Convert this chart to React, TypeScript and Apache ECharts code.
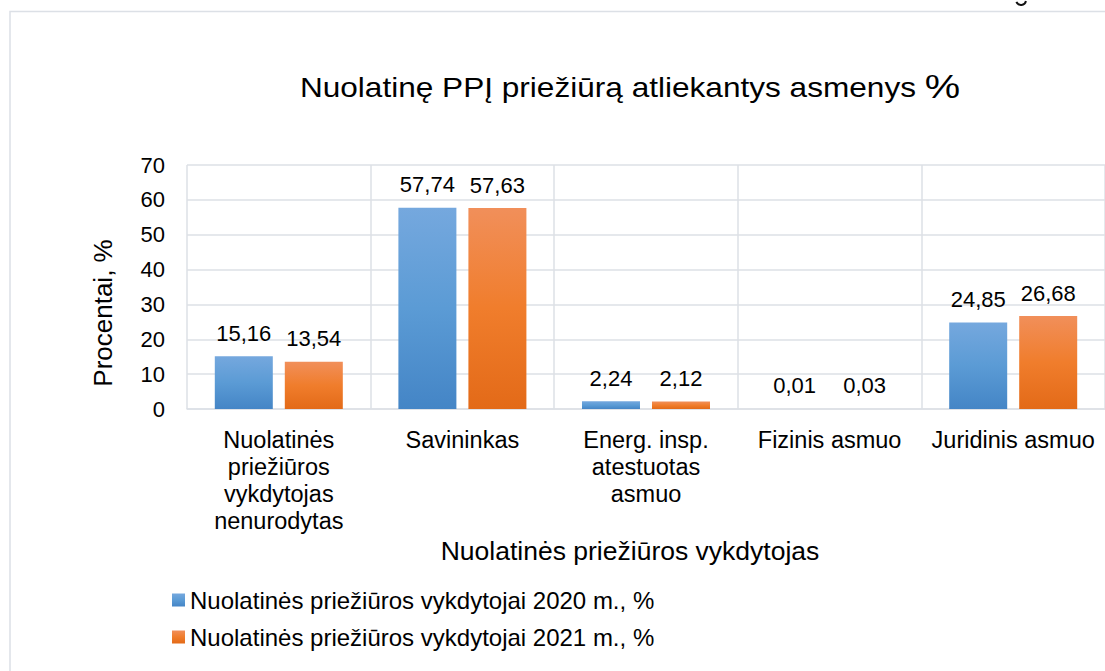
import React, { useEffect, useRef } from "react";
import * as echarts from "echarts";

const categories = [
  "Nuolatinės\npriežiūros\nvykdytojas\nnenurodytas",
  "Savininkas",
  "Energ. insp.\natestuotas\nasmuo",
  "Fizinis asmuo",
  "Juridinis asmuo",
];
const values2020 = [15.16, 57.74, 2.24, 0.01, 24.85];
const values2021 = [13.54, 57.63, 2.12, 0.03, 26.68];
const seriesNames = [
  "Nuolatinės priežiūros vykdytojai 2020 m., %",
  "Nuolatinės priežiūros vykdytojai 2021 m., %",
];
const yMin = 0;
const yMax = 70;
const yInterval = 10;
const titleText = "Nuolatinę PPĮ priežiūrą atliekantys asmenys ";
const yName = "Procentai, %";
const xName = "Nuolatinės priežiūros vykdytojas";

const FONT = "'Liberation Sans', Arial, sans-serif";
const GRID = "#DCE0E6";

function grad(top: string, mid: string, bottom: string) {
  return new echarts.graphic.LinearGradient(0, 0, 0, 1, [
    { offset: 0, color: top },
    { offset: 0.5, color: mid },
    { offset: 1, color: bottom },
  ]);
}

export default function App() {
  const ref = useRef<HTMLDivElement>(null);
  useEffect(() => {
    if (!ref.current) return;
    const chart = echarts.init(ref.current, undefined, { renderer: "svg" });
    const fmt = (p: any) => Number(p.value).toFixed(2).replace(".", ",");
    const label = {
      show: true,
      position: "top",
      distance: 12,
      fontSize: 22,
      fontFamily: FONT,
      color: "#000",
      formatter: fmt,
    };
    chart.setOption({
      animation: false,
      backgroundColor: "#fff",
      textStyle: { fontFamily: FONT },
      grid: { left: 187, right: 0, top: 165, bottom: 262, containLabel: false },
      legend: {
        orient: "vertical",
        left: 172,
        top: 588,
        padding: 0,
        icon: "rect",
        itemWidth: 13,
        itemHeight: 13,
        itemGap: 13,
        textStyle: { fontSize: 24, fontFamily: FONT, color: "#000", lineHeight: 22 },
        data: seriesNames,
      },
      xAxis: {
        type: "category",
        data: categories,
        axisLine: { show: true, lineStyle: { color: GRID, width: 1.5 } },
        axisTick: { show: false },
        splitLine: { show: true, lineStyle: { color: GRID, width: 1.5 } },
        axisLabel: {
          interval: 0,
          fontSize: 23.5,
          lineHeight: 27,
          margin: 17,
          color: "#000",
          fontFamily: FONT,
        },
      },
      yAxis: {
        type: "value",
        min: yMin,
        max: yMax,
        interval: yInterval,
        axisLine: { show: false },
        axisTick: { show: false },
        splitLine: { show: true, lineStyle: { color: GRID, width: 1.5 } },
        axisLabel: { fontSize: 22, margin: 22, color: "#000", fontFamily: FONT },
      },
      series: [
        {
          name: seriesNames[0],
          type: "bar",
          data: values2020,
          barWidth: 58,
          barGap: "20.7%",
          itemStyle: { color: grad("#75A8DE", "#5B9BD5", "#4485C6") },
          label,
        },
        {
          name: seriesNames[1],
          type: "bar",
          data: values2021,
          barWidth: 58,
          barGap: "20.7%",
          itemStyle: { color: grad("#F18F5A", "#F07D2C", "#E36A18") },
          label,
        },
      ],
      graphic: [
        {
          type: "rect",
          silent: true,
          shape: { x: 10, y: 11.5, width: 1300, height: 800 },
          style: { fill: "none", stroke: GRID, lineWidth: 1.5 },
        },
        {
          type: "arc",
          silent: true,
          shape: { cx: 1021, cy: 0, r: 5, startAngle: 0.2, endAngle: Math.PI - 0.4 },
          style: { fill: "none", stroke: "#111", lineWidth: 2 },
        },
        {
          type: "text",
          x: 630,
          y: 87,
          scaleX: 1.17,
          style: {
            text: `{a|${titleText}}{b|%}`,
            textAlign: "center",
            textVerticalAlign: "middle",
            fill: "#000",
            rich: {
              a: { fontSize: 27, fontFamily: FONT, color: "#000" },
              b: { fontSize: 34, fontFamily: FONT, color: "#000" },
            },
          },
        },
        {
          type: "text",
          x: 103,
          y: 313,
          rotation: Math.PI / 2,
          style: {
            text: yName,
            font: `26px ${FONT}`,
            fill: "#000",
            textAlign: "center",
            textVerticalAlign: "middle",
          },
        },
        {
          type: "text",
          x: 630,
          y: 551,
          style: {
            text: xName,
            font: `26.5px ${FONT}`,
            fill: "#000",
            textAlign: "center",
            textVerticalAlign: "middle",
          },
        },
      ],
    });
    return () => chart.dispose();
  }, []);
  return (
    <div
      ref={ref}
      style={{ position: "fixed", left: 0, top: 0, width: 1105, height: 671 }}
    />
  );
}
